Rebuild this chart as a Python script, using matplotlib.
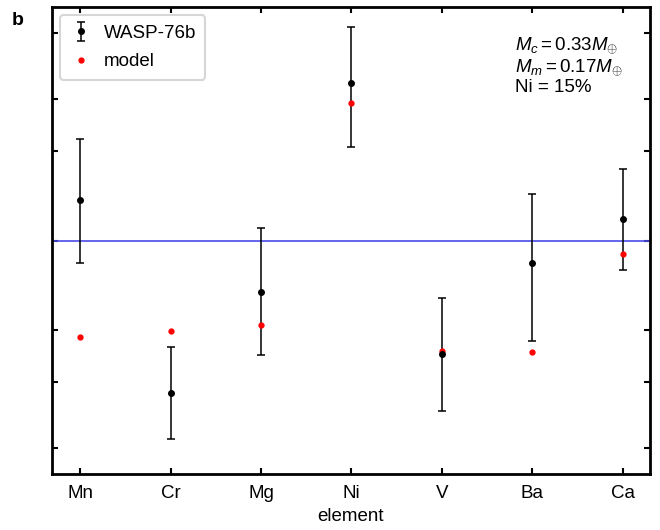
import numpy as np
import matplotlib
matplotlib.use('Agg')
import matplotlib.pyplot as plt
from matplotlib.ticker import FixedLocator, NullLocator, NullFormatter

plt.rcParams['font.family'] = ['Liberation Sans', 'DejaVu Sans']
plt.rcParams['mathtext.fontset'] = 'custom'
plt.rcParams['mathtext.rm'] = 'Liberation Sans'
plt.rcParams['mathtext.it'] = 'Liberation Sans:italic'

# data (abundance ratios)
elements = ['Mn', 'Cr', 'Mg', 'Ni', 'V', 'Ba', 'Ca']
obs = [1.373, 0.305, 0.670, 3.41, 0.414, 0.838, 1.182]
obs_lo = [0.841, 0.214, 0.412, 2.069, 0.266, 0.459, 0.795]
obs_hi = [2.202, 0.438, 1.102, 5.27, 0.641, 1.432, 1.739]
model = [0.473, 0.495, 0.518, 2.905, 0.423, 0.420, 0.900]
yticks = [1/5, 1/3, 1/2, 1, 2, 3, 5]

x = np.arange(len(elements))
obs = np.array(obs)
yerr = [obs - np.array(obs_lo), np.array(obs_hi) - obs]

fig = plt.figure(figsize=(6.6, 5.3), dpi=100)
ax = fig.add_axes([0.0788, 0.1057, 0.906, 0.881])

ax.axhline(1, color='#4a4ae6', lw=1.2)
eb = ax.errorbar(x, obs, yerr=yerr, fmt='o', color='black', ms=4,
                 elinewidth=1.1, capsize=3, capthick=1.1, label='WASP-76b')
mod, = ax.plot(x, model, '.', color='red', ms=7, label='model')

ax.set_yscale('log')
ax.set_ylim(0.163, 6.14)
ax.set_xlim(-0.31, 6.3)
ax.yaxis.set_major_locator(FixedLocator(yticks))
ax.yaxis.set_minor_locator(NullLocator())
ax.yaxis.set_major_formatter(NullFormatter())
ax.yaxis.set_minor_formatter(NullFormatter())
ax.set_xticks(x)
ax.set_xticklabels(elements)
ax.tick_params(direction='in', top=True, right=True, length=4, width=1.5,
               labelsize=13.5, pad=8)
for s in ax.spines.values():
    s.set_linewidth(2)
ax.set_xlabel('element', fontsize=13.5, labelpad=4)

leg = ax.legend(handles=[eb, mod], loc='upper left', fontsize=13.5,
                handletextpad=0.6, borderaxespad=0.45, handlelength=1.2,
                borderpad=0.5, labelspacing=0.6)
leg.get_frame().set_linewidth(1.5)

ax.text(0.774, 0.94, '$M_c = 0.33M_{\\oplus}$\n$M_m = 0.17M_{\\oplus}$\nNi = 15%',
        transform=ax.transAxes, fontsize=13.5, va='top', ha='left', linespacing=1.15)

fig.text(0.018, 0.952, 'b', fontsize=14, fontweight='bold')

fig.savefig('out.png', dpi=100)
